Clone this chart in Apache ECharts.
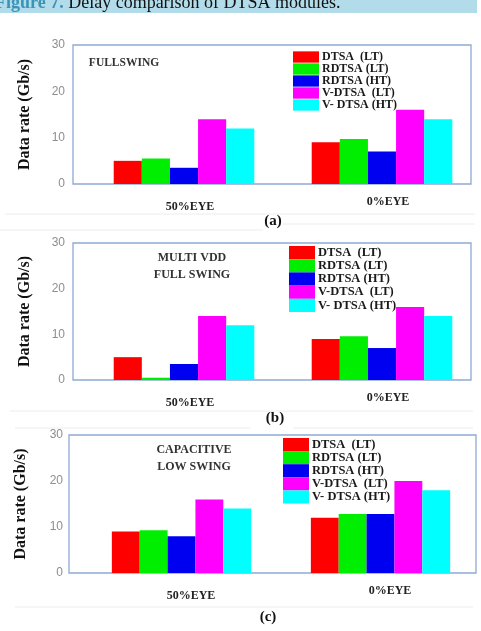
<!DOCTYPE html>
<html>
<head>
<meta charset="utf-8">
<script src="https://cdn.jsdelivr.net/npm/echarts@6/dist/echarts.min.js"></script>
<style>
  html, body { margin: 0; padding: 0; background: #fff; }
  #chart { width: 481px; height: 631px; }
</style>
</head>
<body>
<div id="chart"></div>
<script>
// data
const categories = ['50%EYE', '0%EYE']
const seriesNames = ['DTSA  (LT)', 'RDTSA (LT)', 'RDTSA (HT)', 'V-DTSA  (LT)', 'V- DTSA (HT)']
const seriesColors = ['#ff0000', '#00ee00', '#0000f0', '#ff00ff', '#00ffff']
const yTicks = [0, 10, 20, 30]

// (a) full swing
const fullSwing = [[5, 9], [5.5, 9.7], [3.5, 7], [14, 16], [12, 14]]
// (b) multi vdd full swing
const multiVdd = [[5, 9], [0.5, 9.6], [3.5, 7], [14, 16], [12, 14]]
// (c) capacitive low swing
const capacitive = [[9, 12], [9.3, 12.8], [8, 12.8], [16, 20], [14, 18]]

const serif = 'Liberation Serif'

const panels = [
  {
    data: fullSwing, label: '(a)', notes: ['FULLSWING'],
    frame: { left: 73, top: 45, width: 398, height: 139 },
    bars: { left: 85, width: 400 }, gap: '29%', catShift: 12,
    legend: { left: 293, top: 51, h: 11.3, font: 12 },
    note: { x: 124, y: 63, font: 11.5, step: 17 },
    sub: { x: 273, y: 221 }
  },
  {
    data: multiVdd, label: '(b)', notes: ['MULTI VDD', 'FULL SWING'],
    frame: { left: 73, top: 243, width: 398, height: 137 },
    bars: { left: 85, width: 400 }, gap: '29%', catShift: 12,
    legend: { left: 289, top: 246, h: 13.2, font: 12.5 },
    note: { x: 192, y: 258, font: 12, step: 17 },
    sub: { x: 275, y: 418 }
  },
  {
    data: capacitive, label: '(c)', notes: ['CAPACITIVE', 'LOW SWING'],
    frame: { left: 69, top: 435, width: 407, height: 138 },
    bars: { left: 82, width: 398 }, gap: '30%', catShift: 19,
    legend: { left: 283, top: 438, h: 13.1, font: 12.5 },
    note: { x: 194, y: 450, font: 12, step: 17 },
    sub: { x: 268, y: 617 }
  }
]

const chart = echarts.init(document.getElementById('chart'))

const grid = [], xAxis = [], yAxis = [], series = [], legend = [], graphic = []

// caption strip
graphic.push({
  type: 'rect', left: 0, top: 0, z: 0,
  shape: { width: 477, height: 13 },
  style: { fill: '#b2dcea' }
})
graphic.push({
  type: 'text', x: -5, y: 12, z: 1,
  style: {
    text: '{f|Figure 7.} {d|Delay comparison of DTSA modules.}',
    fontFamily: serif, fontSize: 18, verticalAlign: 'bottom',
    rich: {
      f: { fontFamily: serif, fontSize: 18, fontWeight: 'bold', fill: '#3b93b8' },
      d: { fontFamily: serif, fontSize: 18, fill: '#111' }
    }
  }
})

// faint separator lines from the scanned figure
const seps = [[5, 214, 475], [283, 224, 475], [0, 230, 263], [10, 411, 473], [15, 428, 250], [293, 428, 473], [15, 607, 473]]
seps.forEach(s => graphic.push({
  type: 'line', z: 0,
  shape: { x1: s[0], y1: s[1], x2: s[2], y2: s[1] },
  style: { stroke: '#ececec', lineWidth: 1 }
}))

panels.forEach((p, i) => {
  const fi = i * 2, bi = i * 2 + 1

  grid.push({
    left: p.frame.left, top: p.frame.top, width: p.frame.width, height: p.frame.height,
    show: true, borderColor: '#8fa9d6', borderWidth: 1.3, backgroundColor: 'transparent'
  })
  grid.push({
    left: p.bars.left, top: p.frame.top, width: p.bars.width, height: p.frame.height
  })

  xAxis.push({ gridIndex: fi, type: 'value', min: 0, max: 1, show: false })
  yAxis.push({
    gridIndex: fi, type: 'value', min: yTicks[0], max: yTicks[yTicks.length - 1], interval: 10,
    name: 'Data rate (Gb/s)', nameLocation: 'middle', nameGap: 40, nameRotate: 90,
    nameTextStyle: { fontFamily: serif, fontWeight: 'bold', fontSize: 16, color: '#111' },
    axisLine: { show: false }, axisTick: { show: false }, splitLine: { show: false },
    axisLabel: { color: '#8e8e8e', fontFamily: 'Liberation Sans', fontSize: 12, margin: i === 2 ? 6 : 8 }
  })

  xAxis.push({
    gridIndex: bi, type: 'category',
    data: categories.map((c, k) => ({
      value: c,
      textStyle: { padding: [k === 0 ? 5 : 0, 0, 0, p.catShift] }
    })),
    axisLine: { show: false }, axisTick: { show: false },
    axisLabel: { fontFamily: serif, fontWeight: 'bold', fontSize: 12, color: '#222', margin: 12 }
  })
  yAxis.push({ gridIndex: bi, type: 'value', min: 0, max: 30, show: false, splitLine: { show: false } })

  seriesNames.forEach((name, s) => {
    series.push({
      name, type: 'bar', xAxisIndex: bi, yAxisIndex: bi,
      data: p.data[s],
      barGap: '0%', barCategoryGap: p.gap,
      itemStyle: { color: seriesColors[s] },
      silent: true
    })
  })

  legend.push({
    data: seriesNames, orient: 'vertical',
    left: p.legend.left, top: p.legend.top,
    icon: 'rect', itemWidth: 26, itemHeight: p.legend.h, itemGap: 0,
    padding: 0, selectedMode: false,
    textStyle: {
      fontFamily: serif, fontWeight: 'bold', fontSize: p.legend.font,
      lineHeight: p.legend.h, color: '#1a1a1a', padding: [0, 0, 0, -2]
    }
  })

  p.notes.forEach((t, k) => graphic.push({
    type: 'text', x: p.note.x, y: p.note.y + k * p.note.step,
    style: {
      text: t, fontFamily: serif, fontWeight: 'bold', fontSize: p.note.font,
      fill: '#333', align: 'center', verticalAlign: 'middle'
    }
  }))

  graphic.push({
    type: 'text', x: p.sub.x, y: p.sub.y,
    style: {
      text: p.label, fontFamily: serif, fontWeight: 'bold', fontSize: 15,
      fill: '#111', align: 'center', verticalAlign: 'middle'
    }
  })
})

chart.setOption({
  animation: false,
  backgroundColor: '#fff',
  grid, xAxis, yAxis, series, legend, graphic
})
</script>
</body>
</html>
